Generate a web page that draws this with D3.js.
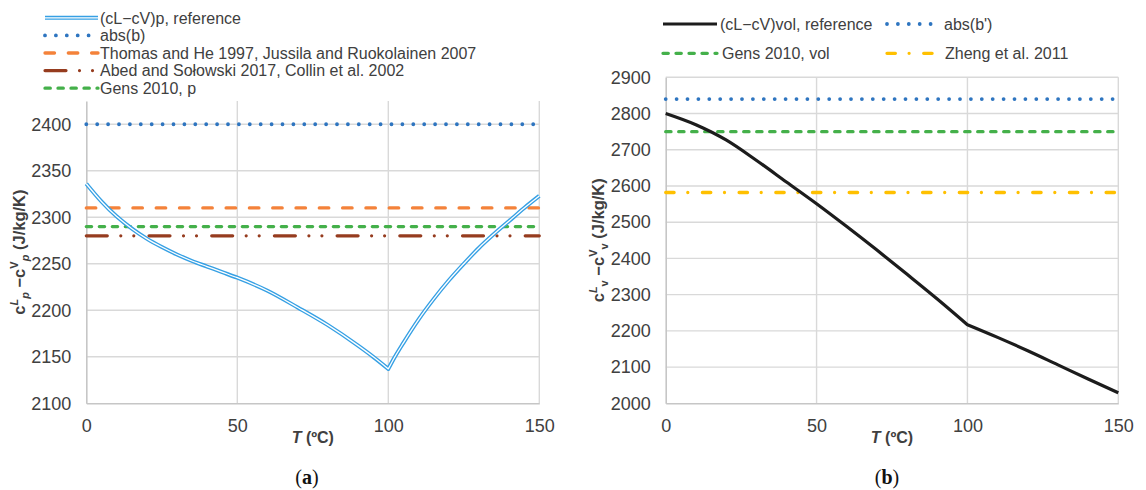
<!DOCTYPE html>
<html>
<head>
<meta charset="utf-8">
<script src="https://cdn.jsdelivr.net/npm/d3@7"></script>
<style>
  body { margin: 0; background: #fff; }
  svg { display: block; font-family: "Liberation Sans", Arial, sans-serif; }
</style>
</head>
<body>
<svg id="fig" width="1146" height="490"></svg>
<script>
// ---------- Panel (a): isobaric heat-capacity difference ----------
const tempA = [0, 5, 10, 15, 20, 25, 30, 35, 40, 45, 50, 60, 70, 80, 90, 95, 100,
               102, 105, 110, 115, 120, 125, 130, 135, 140, 145, 150];
const cpRefA = [2336, 2317, 2301, 2288, 2277, 2268, 2260, 2253, 2247, 2241, 2235, 2221, 2203, 2184, 2162, 2150, 2137,
                2149, 2165, 2190, 2212, 2232, 2250, 2267, 2282, 2296, 2310, 2323];
const refNamesA = ["abs(b)", "Thomas and He 1997, Jussila and Ruokolainen 2007",
                   "Abed and Sołowski 2017, Collin et al. 2002", "Gens 2010, p"];
const refValuesA = [2400, 2310, 2280, 2290];
const yTicksA = [2100, 2150, 2200, 2250, 2300, 2350, 2400];

// ---------- Panel (b): isochoric heat-capacity difference ----------
const tempB = [0, 10, 20, 30, 40, 50, 60, 70, 80, 90, 100, 110, 120, 130, 140, 150];
const cvRefB = [2800, 2769, 2727, 2671, 2611, 2551, 2488, 2423, 2356, 2288, 2217, 2182, 2145, 2106, 2067, 2029];
const refNamesB = ["abs(b')", "Gens 2010, vol", "Zheng et al. 2011"];
const refValuesB = [2840, 2750, 2582];
const yTicksB = [2000, 2100, 2200, 2300, 2400, 2500, 2600, 2700, 2800, 2900];

const xTicks = [0, 50, 100, 150];
const kinkT = 100; // both reference curves change slope at the boiling point

// ---------- line styles ----------
const TXT = "#404040";
const TICK_FS = 18;
const styles = {
  dotBlue:  { stroke: "#2e75c0", width: 3.8, dash: "0 10.9", cap: "round" },
  dashOrg:  { stroke: "#f4823a", width: 3.3, dash: "9.5 13.8", cap: "round" },
  dashGrn:  { stroke: "#44b04a", width: 3.3, dash: "5.3 7.7", cap: "round" },
  ddBrown:  { stroke: "#963c1f", width: 3.2, dash: "21 13.5 0 13 0 15.2", cap: "round" },
  dashYel:  { stroke: "#ffc000", width: 3.3, dash: "8.4 13.7 0 14.6", cap: "round" },
  solidBlk: { stroke: "#1c1c1c", width: 3.2, dash: null, cap: "butt" }
};

const svg = d3.select("#fig");
svg.append("rect").attr("width", 1146).attr("height", 490).attr("fill", "#fff");

function styled(sel, st) {
  sel.attr("fill", "none")
     .attr("stroke", st.stroke)
     .attr("stroke-width", st.width)
     .attr("stroke-linecap", st.cap);
  if (st.dash) sel.attr("stroke-dasharray", st.dash);
  return sel;
}

// double (compound) blue line: blue outer stroke with a thin white core
function doubleLine(g, d) {
  g.append("path").attr("d", d).attr("fill", "none")
    .attr("stroke", "#36a0e4").attr("stroke-width", 4.0).attr("stroke-linejoin", "round");
  g.append("path").attr("d", d).attr("fill", "none")
    .attr("stroke", "#fff").attr("stroke-width", 1.3).attr("stroke-linejoin", "round");
}

function drawPanel(cfg) {
  const x = d3.scaleLinear().domain([0, 150]).range([cfg.left, cfg.right]);
  const y = d3.scaleLinear().domain(cfg.yDomain).range([cfg.bottom, cfg.top]);
  const g = svg.append("g");

  // gridlines
  g.append("g").selectAll("line").data(cfg.yTicks.slice(1)).join("line")
    .attr("x1", cfg.left).attr("x2", cfg.right)
    .attr("y1", d => y(d)).attr("y2", d => y(d))
    .attr("stroke", "#d9d9d9").attr("stroke-width", 1.4);
  g.append("g").selectAll("line").data(xTicks.slice(1)).join("line")
    .attr("x1", d => x(d)).attr("x2", d => x(d))
    .attr("y1", cfg.top).attr("y2", cfg.bottom)
    .attr("stroke", "#d9d9d9").attr("stroke-width", 1.4);

  // axes
  const yAxis = d3.axisLeft(y).tickValues(cfg.yTicks).tickSize(0).tickPadding(15).tickFormat(d3.format("d"));
  const gy = g.append("g").attr("transform", `translate(${cfg.left},0)`).call(yAxis)
    .attr("font-size", TICK_FS).attr("font-family", '"Liberation Sans", Arial, sans-serif');
  gy.select(".domain").attr("stroke", "#c6c6c6").attr("stroke-width", 1.6);
  gy.selectAll("text").attr("fill", TXT);

  const xAxis = d3.axisBottom(x).tickValues(xTicks).tickSize(0).tickPadding(16).tickFormat(d3.format("d"));
  const gx = g.append("g").attr("transform", `translate(0,${cfg.bottom})`).call(xAxis)
    .attr("font-size", TICK_FS).attr("font-family", '"Liberation Sans", Arial, sans-serif');
  gx.select(".domain").attr("stroke", "#c6c6c6").attr("stroke-width", 1.6);
  gx.selectAll("text").attr("fill", TXT);

  // horizontal reference values
  cfg.refValues.forEach((v, i) => {
    styled(g.append("line")
      .attr("x1", cfg.left).attr("x2", cfg.right)
      .attr("y1", y(v)).attr("y2", y(v)), styles[cfg.refStyles[i]]);
  });

  // reference curve: smooth on each side of the kink, sharp corner at the kink
  const line = d3.line().x(d => x(d[0])).y(d => y(d[1])).curve(d3.curveMonotoneX);
  const pts = cfg.temps.map((t, i) => [t, cfg.values[i]]);
  const before = pts.filter(p => p[0] <= kinkT);
  const after = pts.filter(p => p[0] >= kinkT);
  const d = line(before) + line(after).replace(/^M/, "L");
  if (cfg.double) doubleLine(g, d);
  else styled(g.append("path").attr("d", d).attr("stroke-linejoin", "miter"), styles.solidBlk);

  // axis titles
  const xt = svg.append("text").attr("x", (cfg.left + cfg.right) / 2).attr("y", 443)
    .attr("text-anchor", "middle").attr("font-size", 16).attr("font-weight", "bold").attr("fill", TXT);
  xt.append("tspan").attr("font-style", "italic").text("T");
  xt.append("tspan").text(" (ºC)");

  const yt = svg.append("text")
    .attr("transform", `translate(${cfg.titleX},${(cfg.top + cfg.bottom) / 2}) rotate(-90)`)
    .attr("text-anchor", "middle").attr("font-size", 16.5).attr("font-weight", "bold").attr("fill", TXT);
  yt.append("tspan").text("c");
  yt.append("tspan").attr("font-size", 11).attr("font-style", "italic").attr("dy", -7).text("L");
  yt.append("tspan").attr("font-size", 11).attr("font-style", cfg.subItalic ? "italic" : "normal").attr("dy", 11).text(cfg.sub);
  yt.append("tspan").attr("dy", -4).text(" \u2212c");
  yt.append("tspan").attr("font-size", 11).attr("dy", -7).text("V");
  yt.append("tspan").attr("font-size", 11).attr("font-style", cfg.subItalic ? "italic" : "normal").attr("dy", 11).text(cfg.sub);
  yt.append("tspan").attr("dy", -4).text(" (J/kg/K)");

  // panel caption
  const cap = svg.append("text").attr("x", cfg.captionX).attr("y", 484)
    .attr("text-anchor", "middle").attr("font-size", 20).attr("fill", "#111")
    .attr("font-family", '"Liberation Serif", "Times New Roman", serif');
  cap.append("tspan").text("(");
  cap.append("tspan").attr("font-weight", "bold").text(cfg.caption);
  cap.append("tspan").text(")");
}

function legendItem(sx, sw, cy, tx, label, draw) {
  const g = svg.append("g");
  draw(g, sx, sx + sw, cy);
  g.append("text").attr("x", tx).attr("y", cy + 5.8).attr("font-size", 16)
    .attr("fill", TXT).text(label);
}
function legendStyle(key) {
  return (g, a, b, cy) => styled(g.append("line").attr("x1", a).attr("x2", b)
    .attr("y1", cy).attr("y2", cy), styles[key]);
}

// ---------- draw panel (a) ----------
drawPanel({
  left: 86.3, right: 539.3, top: 101, bottom: 403.3,
  yDomain: [2100, 2425], yTicks: yTicksA,
  temps: tempA, values: cpRefA, double: true,
  refValues: refValuesA, refStyles: ["dotBlue", "dashOrg", "ddBrown", "dashGrn"],
  titleX: 25, sub: "p", subItalic: true, caption: "a", captionX: 307
});

// ---------- draw panel (b) ----------
drawPanel({
  left: 665.7, right: 1118.3, top: 77.3, bottom: 403.3,
  yDomain: [2000, 2900], yTicks: yTicksB,
  temps: tempB, values: cvRefB, double: false,
  refValues: refValuesB, refStyles: ["dotBlue", "dashGrn", "dashYel"],
  titleX: 604, sub: "v", subItalic: false, caption: "b", captionX: 887
});

// ---------- legends ----------
const legA = ["(cL\u2212cV)p, reference", refNamesA[0], refNamesA[1], refNamesA[2], refNamesA[3]];
const legAStyles = [null, "dotBlue", "dashOrg", "ddBrown", "dashGrn"];
legA.forEach((lab, i) => {
  const cy = 17.8 + i * 17.6;
  const draw = legAStyles[i] ? legendStyle(legAStyles[i])
    : (g, a, b, c) => doubleLine(g, `M${a},${c}H${b}`);
  legendItem(45, 53, cy, 100, lab, draw);
});

legendItem(663, 54, 24, 720, "(cL\u2212cV)vol, reference", legendStyle("solidBlk"));
legendItem(887, 54, 24, 944, refNamesB[0], legendStyle("dotBlue"));
legendItem(663, 54, 53.3, 722, refNamesB[1], legendStyle("dashGrn"));
legendItem(887, 46, 53.3, 945, refNamesB[2], legendStyle("dashYel"));
</script>
</body>
</html>
